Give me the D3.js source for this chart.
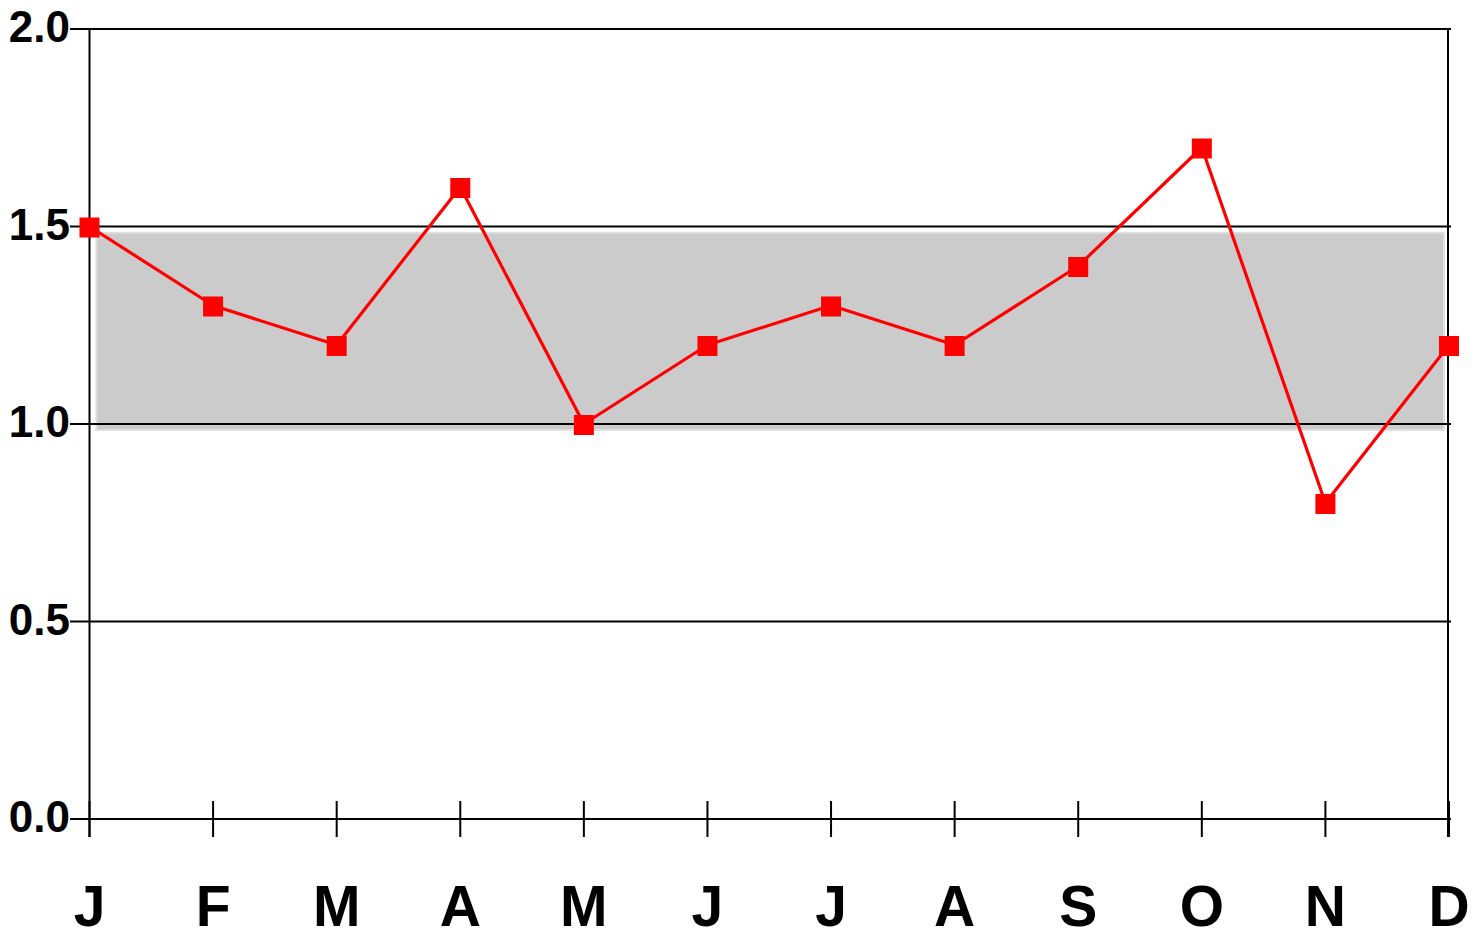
<!DOCTYPE html>
<html><head><meta charset="utf-8">
<script src="https://cdn.jsdelivr.net/npm/d3@7"></script>
<style>html,body{margin:0;padding:0;background:#fff;}svg{display:block;}</style>
</head><body>
<svg id="c" width="1482" height="932"></svg>
<script>
const months = ["J","F","M","A","M","J","J","A","S","O","N","D"];
const values = [1.5,1.3,1.2,1.6,1.0,1.2,1.3,1.2,1.4,1.7,0.8,1.2];
const yTicks = [0.0,0.5,1.0,1.5,2.0];
const bandRange = [0.985,1.484];

const svg = d3.select("#c");
const x = d3.scaleLinear().domain([0, months.length-1]).range([89.5, 1449]);
const y = d3.scaleLinear().domain([0,2]).range([819, 29]);
const font = "'Liberation Sans', Arial, sans-serif";

// band
svg.append("rect")
  .attr("x", x(0)+7).attr("width", x(11)-x(0)-12)
  .attr("y", y(bandRange[1])).attr("height", y(bandRange[0])-y(bandRange[1]))
  .attr("fill", "#cbcbcb").attr("stroke","#dedede").attr("stroke-width",2);

// gridlines
svg.append("g").selectAll("line").data(yTicks).join("line")
  .attr("x1", 70).attr("x2", 1451)
  .attr("y1", d=>y(d)).attr("y2", d=>y(d))
  .attr("stroke","#000").attr("stroke-width",2);

// y labels
svg.append("g").selectAll("text").data(yTicks).join("text")
  .attr("x", 70).attr("y", d=>y(d)+13)
  .attr("text-anchor","end")
  .attr("font-family", font).attr("font-weight","bold").attr("font-size",44)
  .text(d=>d.toFixed(1));

// vertical axes
svg.append("line").attr("x1",x(0)).attr("x2",x(0)).attr("y1",y(2)).attr("y2",837)
  .attr("stroke","#000").attr("stroke-width",2);
svg.append("line").attr("x1",x(11)-1).attr("x2",x(11)-1).attr("y1",y(2)).attr("y2",837)
  .attr("stroke","#000").attr("stroke-width",2);

// x ticks
svg.append("g").selectAll("line").data(months).join("line")
  .attr("x1",(d,i)=>x(i)).attr("x2",(d,i)=>x(i))
  .attr("y1",801).attr("y2",837)
  .attr("stroke","#000").attr("stroke-width",2);

// x labels
svg.append("g").selectAll("text").data(months).join("text")
  .attr("x",(d,i)=>x(i)).attr("y",926)
  .attr("text-anchor","middle")
  .attr("font-family", font).attr("font-weight","bold").attr("font-size",57)
  .text(d=>d);

// line
const line = d3.line().x((d,i)=>x(i)).y(d=>y(d));
svg.append("path").datum(values).attr("d", line)
  .attr("fill","none").attr("stroke","#ff0000").attr("stroke-width",3.2)
  .attr("stroke-linejoin","round");

// markers
svg.append("g").selectAll("rect").data(values).join("rect")
  .attr("x",(d,i)=>x(i)-10).attr("y",d=>y(d)-9)
  .attr("width",20).attr("height",20)
  .attr("fill","#ff0000");
</script>
</body></html>
